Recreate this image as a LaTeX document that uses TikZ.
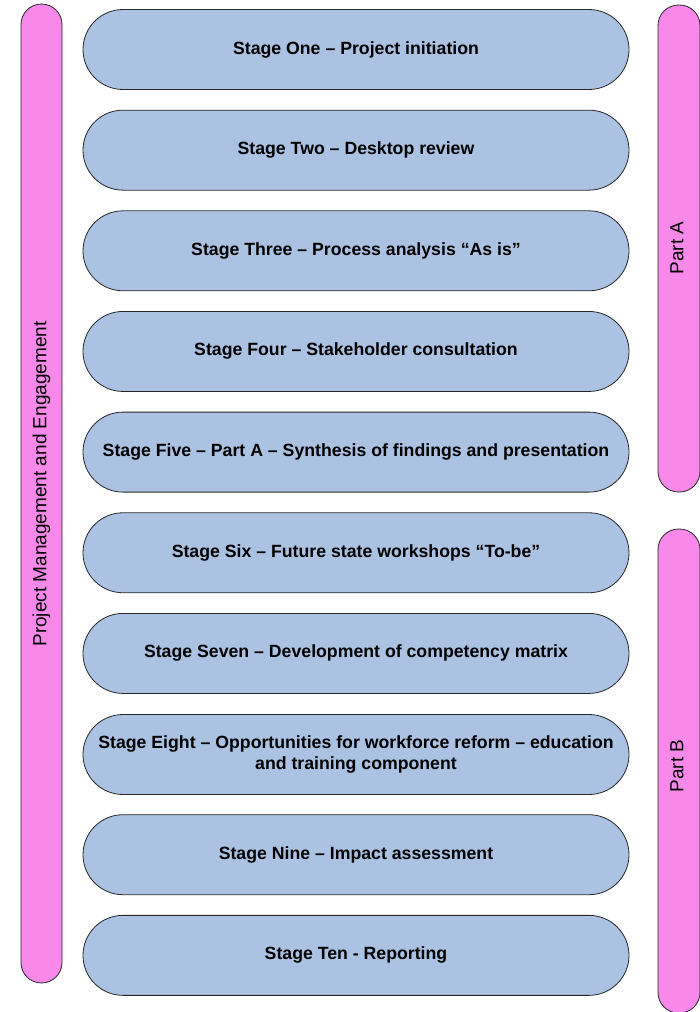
\documentclass[tikz,border=0pt]{standalone}
\usepackage{fontspec}
\setmainfont{Liberation Sans}
\definecolor{stageblue}{RGB}{172,194,226}
\definecolor{barpink}{RGB}{248,136,234}
\begin{document}
\begin{tikzpicture}[x=1pt,y=-1pt,
  stagebox/.style={draw=black!85, line width=0.8pt, fill=stageblue, rounded corners=40pt,
    minimum width=546pt, minimum height=80pt, inner sep=0pt, align=center,
    font=\bfseries\fontsize{17.7}{20.5}\selectfont, text=black},
  pinkbar/.style={draw=black!85, line width=0.8pt, fill=barpink, rounded corners=20.5pt,
    inner sep=0pt, minimum height=41pt, rotate=90},
  barlabel/.style={rotate=90, inner sep=0pt, font=\fontsize{19}{22}\selectfont, text=black}]
\useasboundingbox (0,0) rectangle (699,1012);
% side bars
\node[pinkbar, minimum width=979pt] (pm) at (41.5,493.5) {};
\node[barlabel] (pmlabel) at (41.5,484) {Project Management and Engagement};
\node[pinkbar, minimum width=487pt, minimum height=42pt] (partA) at (679,248.5) {};
\node[barlabel] (partAlabel) at (677,248) {Part A};
\node[pinkbar, minimum width=484pt, minimum height=42pt] (partB) at (679,771) {};
\node[barlabel] (partBlabel) at (677,766) {Part B};
% stages
\node[stagebox] (s1) at (356,49.5) {Stage One -- Project initiation};
\node[stagebox] (s2) at (356,150.15) {Stage Two -- Desktop review};
\node[stagebox] (s3) at (356,250.8) {Stage Three -- Process analysis ``As is''};
\node[stagebox] (s4) at (356,351.45) {Stage Four -- Stakeholder consultation};
\node[stagebox] (s5) at (356,452.1) {Stage Five -- Part A -- Synthesis of findings and presentation};
\node[stagebox] (s6) at (356,552.75) {Stage Six -- Future state workshops ``To-be''};
\node[stagebox] (s7) at (356,653.4) {Stage Seven -- Development of competency matrix};
\node[stagebox] (s8) at (356,754.5) {Stage Eight -- Opportunities for workforce reform -- education\\and training component};
\node[stagebox] (s9) at (356,854.7) {Stage Nine -- Impact assessment};
\node[stagebox] (s10) at (356,955.35) {Stage Ten - Reporting};
\end{tikzpicture}
\end{document}
